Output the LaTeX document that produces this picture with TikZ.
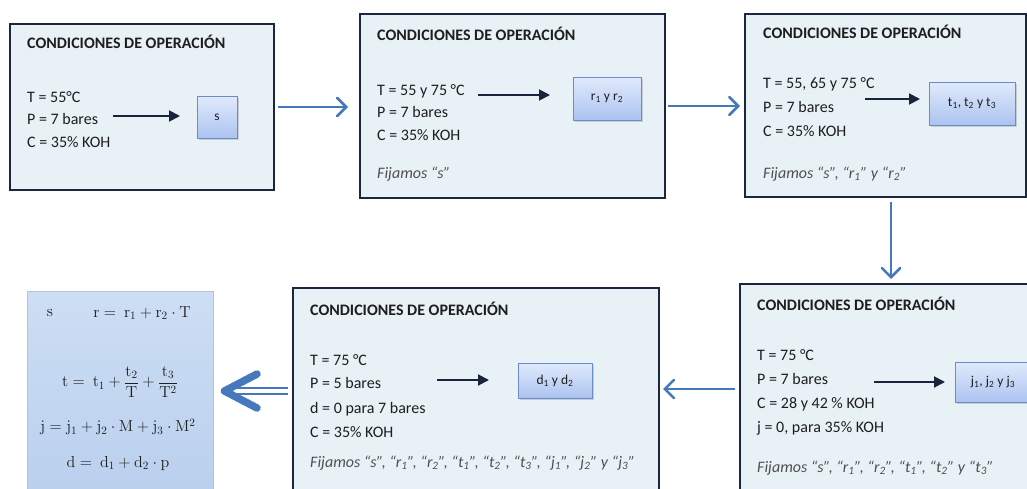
\documentclass[tikz,border=0pt]{standalone}
\usepackage{fix-cm}
\usepackage{amsmath}
\usepackage[no-math]{fontspec}
\setmainfont{Carlito}
\usetikzlibrary{arrows.meta,shadows}

\definecolor{panelfill}{RGB}{231,241,246}
\definecolor{panelline}{RGB}{28,38,62}
\definecolor{flowblue}{RGB}{70,120,188}
\definecolor{inkarrow}{RGB}{25,35,60}
\definecolor{keytop}{RGB}{224,234,252}
\definecolor{keybot}{RGB}{172,195,240}
\definecolor{keyline}{RGB}{105,140,205}
\definecolor{eqtop}{RGB}{205,222,244}
\definecolor{eqbot}{RGB}{186,208,238}
\definecolor{eqline}{RGB}{178,196,220}
\definecolor{textdark}{RGB}{30,30,30}
\definecolor{textsoft}{RGB}{80,80,80}

\begin{document}
\begin{tikzpicture}[x=1pt,y=-1pt,
  panel/.style={draw=panelline, line width=2.2pt, fill=panelfill,
    inner sep=0pt, outer sep=0pt, anchor=north west},
  keybox/.style={draw=keyline, line width=0.8pt, top color=keytop,
    bottom color=keybot, inner sep=0pt, outer sep=0pt, anchor=north west,
    drop shadow={opacity=0.3, shadow xshift=1.5pt, shadow yshift=-2pt},
    text=textdark, font=\fontsize{13.5}{15}\selectfont},
  heading/.style={anchor=base west, inner sep=0pt, text=textdark,
    font=\bfseries\fontsize{16}{19}\selectfont},
  cond/.style={anchor=base west, inner sep=0pt, text=textdark,
    font=\fontsize{16}{19}\selectfont},
  fixed/.style={anchor=base west, inner sep=0pt, text=textsoft,
    font=\itshape\fontsize{16}{19}\selectfont},
  eqbox/.style={draw=eqline, line width=0.6pt, top color=eqtop,
    bottom color=eqbot, inner sep=0pt, outer sep=0pt, anchor=north west},
  eqtext/.style={inner sep=0pt, text=textdark, font=\fontsize{16}{19}\selectfont},
  ink/.style={draw=inkarrow, line width=1.9pt, -{Triangle[length=11pt,width=11pt]}},
  flow/.style={draw=flowblue, line width=2.6pt,
    -{Straight Barb[length=9pt,width=18pt,line cap=round]}},
  dblshaft/.style={draw=flowblue, line width=2.2pt, double=white, double distance=4pt},
  chevron/.style={draw=flowblue, line width=7.5pt, line cap=round, line join=round}
]
\useasboundingbox (0,0) rectangle (1027,488);
\clip (0,0) rectangle (1027,488);

% panels
\node[panel, minimum width=264pt, minimum height=166pt] (b1) at (10,24) {};
\node[panel, minimum width=305pt, minimum height=184pt] (b2) at (360,14) {};
\node[panel, minimum width=281pt, minimum height=183pt] (b3) at (745,14) {};
\node[panel, minimum width=320pt, minimum height=210pt] (b4) at (740,284) {};
\node[panel, minimum width=366pt, minimum height=206pt] (b5) at (293,288) {};
\node[eqbox, minimum width=186pt, minimum height=200pt] (eq) at (27,291) {};

% panel 1
\node[heading] (h1) at (27,48) {CONDICIONES DE OPERACIÓN};
\node[cond] (c1a) at (27,102) {T = 55°C};
\node[cond] (c1b) at (27,124) {P = 7 bares};
\node[cond] (c1c) at (27,147) {C = 35\% KOH};
\node[keybox, minimum width=40pt, minimum height=42pt] (s) at (197,96) {s};
\coordinate (p1) at (113,116);
\draw[ink, shorten >=17pt] (p1) -- (p1 -| s.west);

% panel 2
\node[heading] (h2) at (377,40) {CONDICIONES DE OPERACIÓN};
\node[cond] (c2a) at (377,95) {T = 55 y 75 °C};
\node[cond] (c2b) at (377,117) {P = 7 bares};
\node[cond] (c2c) at (377,140) {C = 35\% KOH};
\node[fixed] (f2) at (377,178) {Fijamos “s”};
\node[keybox, minimum width=68pt, minimum height=43pt] (r) at (573,77) {r\textsubscript{1} y r\textsubscript{2}};
\coordinate (p2) at (478,95);
\draw[ink, shorten >=23pt] (p2) -- (p2 -| r.west);

% panel 3
\node[heading] (h3) at (763,38) {CONDICIONES DE OPERACIÓN};
\node[cond] (c3a) at (763,88) {T = 55, 65 y 75 °C};
\node[cond] (c3b) at (763,112) {P = 7 bares};
\node[cond] (c3c) at (763,136) {C = 35\% KOH};
\node[fixed] (f3) at (763,178) {Fijamos “s”, “r\textsubscript{1}” y “r\textsubscript{2}”};
\node[keybox, minimum width=86pt, minimum height=43pt] (t) at (929,82) {t\textsubscript{1}, t\textsubscript{2} y t\textsubscript{3}};
\coordinate (p3) at (865,99);
\draw[ink, shorten >=9pt] (p3) -- (p3 -| t.west);

% panel 4
\node[heading] (h4) at (757,310) {CONDICIONES DE OPERACIÓN};
\node[cond] (c4a) at (757,360) {T = 75 °C};
\node[cond] (c4b) at (757,384) {P = 7 bares};
\node[cond] (c4c) at (757,408) {C = 28 y 42 \% KOH};
\node[cond] (c4d) at (757,432) {j = 0, para 35\% KOH};
\node[fixed] (f4) at (757,472) {Fijamos “s”, “r\textsubscript{1}”, “r\textsubscript{2}”, “t\textsubscript{1}”, “t\textsubscript{2}” y “t\textsubscript{3}”};
\node[keybox, minimum width=76pt, minimum height=40pt] (j) at (955,362) {j\textsubscript{1}, j\textsubscript{2} y j\textsubscript{3}};
\coordinate (p4) at (874,382);
\draw[ink, shorten >=10pt] (p4) -- (p4 -| j.west);

% panel 5
\node[heading] (h5) at (310,315) {CONDICIONES DE OPERACIÓN};
\node[cond] (c5a) at (310,365) {T = 75 °C};
\node[cond] (c5b) at (310,388) {P = 5 bares};
\node[cond] (c5c) at (310,413) {d = 0 para 7 bares};
\node[cond] (c5d) at (310,437) {C = 35\% KOH};
\node[fixed] (f5) at (310,467) {Fijamos “s”, “r\textsubscript{1}”, “r\textsubscript{2}”, “t\textsubscript{1}”, “t\textsubscript{2}”, “t\textsubscript{3}”, “j\textsubscript{1}”, “j\textsubscript{2}” y “j\textsubscript{3}”};
\node[keybox, minimum width=74pt, minimum height=35pt] (d) at (518,363) {d\textsubscript{1} y d\textsubscript{2}};
\coordinate (p5) at (437,380);
\draw[ink, shorten >=29pt] (p5) -- (p5 -| d.west);

% resulting correlations
\node[eqtext] (e0) at (50,313) {$\mathrm{s}$};
\node[eqtext] (e1) at (142,313) {$\mathrm{r} =\ \mathrm{r}_1 + \mathrm{r}_2\cdot\mathrm{T}$};
\node[eqtext] (e2) at (120,382) {$\mathrm{t} =\ \mathrm{t}_1 + \dfrac{\mathrm{t}_2}{\mathrm{T}} + \dfrac{\mathrm{t}_3}{\mathrm{T}^2}$};
\node[eqtext] (e3) at (118,427) {$\mathrm{j} = \mathrm{j}_1 + \mathrm{j}_2\cdot\mathrm{M} + \mathrm{j}_3\cdot\mathrm{M}^2$};
\node[eqtext] (e4) at (118,463) {$\mathrm{d} =\ \mathrm{d}_1 + \mathrm{d}_2\cdot\mathrm{p}$};

% flow between panels
\coordinate (vx) at (891,0);
\draw[flow, shorten <=4pt, shorten >=12pt] (b1.east) -- (b1.east -| b2.west);
\draw[flow, shorten <=3pt, shorten >=5pt] (b2.east) -- (b2.east -| b3.west);
\draw[flow, shorten <=5pt, shorten >=5pt] (b3.south -| vx) -- (b4.north -| vx);
\draw[flow, shorten <=5pt, shorten >=4pt] (b4.west) -- (b4.west -| b5.east);
\draw[dblshaft, shorten <=5pt, shorten >=19pt] (b5.west) -- (b5.west -| eq.east);
\draw[chevron] ([xshift=44pt,yshift=17pt]eq.east) -- ([xshift=11.5pt]eq.east)
  -- ([xshift=44pt,yshift=-17pt]eq.east);
\end{tikzpicture}
\end{document}
